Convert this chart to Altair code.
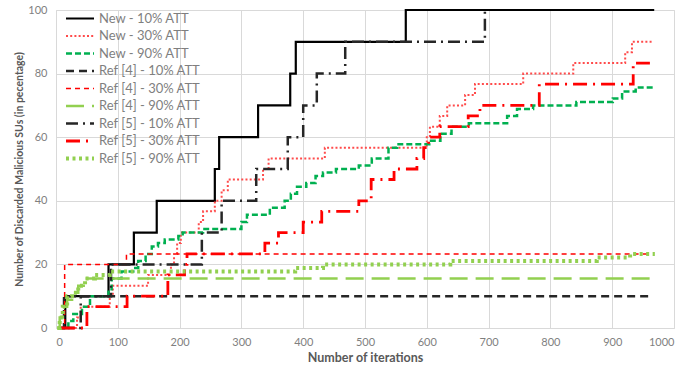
import altair as alt
import pandas as pd

series = ["New - 10% ATT", "New - 30% ATT", "New - 90% ATT",
          "Ref [4] - 10% ATT", "Ref [4] - 30% ATT", "Ref [4] - 90% ATT",
          "Ref [5] - 10% ATT", "Ref [5] - 30% ATT", "Ref [5] - 90% ATT"]

new10_x = [8, 15, 85, 126, 163, 257, 264, 327, 379, 388, 566, 968]
new10_y = [0, 10, 20, 30, 40, 50, 60, 70, 80, 90, 100, 100]

new30_x = [10, 34, 40, 87, 92, 149, 186, 191, 196, 202, 231, 238, 257, 268, 278,
           335, 344, 435, 600, 605, 621, 633, 662, 678, 756, 837, 921, 932, 966]
new30_y = [0, 3.3, 6.7, 10, 13.3, 16.7, 20, 23.3, 26.7, 30, 33.3, 36.7, 40, 43.3, 46.7,
           50, 53.3, 56.7, 60, 63.3, 66.7, 70, 73.3, 76.7, 80, 83.3, 86.7, 90, 90]

new90_x = [5, 20, 28, 42, 55, 85, 90, 106, 125, 133, 145, 155, 165, 176, 198, 205, 238,
           300, 309, 346, 370, 380, 390, 405, 420, 432, 453, 490, 511, 538, 552, 604,
           622, 640, 668, 730, 746, 772, 842, 901, 916, 938, 966]
new90_y = [0, 2.2, 4.4, 6.7, 10, 12.2, 15.6, 17.8, 18.9, 21.1, 23.3, 25.6, 26.7, 27.8,
           28.9, 30, 31.1, 33.3, 35.6, 37.8, 40, 42.2, 44.4, 45.6, 47.8, 48.9, 50, 51.1,
           53.3, 56.7, 57.8, 58.9, 61.1, 63.3, 64.4, 66.7, 68.9, 70, 71.1, 72.2, 74.4,
           75.6, 75.6]

ref4_10_x = [8, 13, 963]
ref4_10_y = [0, 10, 10]

ref4_30_x = [6, 14, 114, 960]
ref4_30_y = [0, 20, 23.3, 23.3]

ref4_90_x = [2, 6, 11, 18, 26, 36, 47, 969]
ref4_90_y = [0, 3.3, 6.7, 8.9, 11.1, 13.3, 15.6, 15.6]

ref5_10_x = [10, 40, 89, 236, 268, 324, 375, 400, 422, 468, 694, 697]
ref5_10_y = [0, 10, 20, 30, 40, 50, 60, 70, 80, 90, 100, 100]

ref5_30_x = [8, 50, 115, 181, 208, 212, 338, 360, 400, 430, 490, 510, 547, 584, 595,
             603, 621, 667, 686, 782, 934, 961]
ref5_30_y = [0, 6.7, 10, 16.7, 20, 23.3, 26.7, 30, 33.3, 36.7, 40, 46.7, 50, 53.3, 56.7,
             60, 63.3, 66.7, 70, 76.7, 83.3, 83.3]

ref5_90_x = [2, 6, 11, 18, 26, 36, 47, 63, 87, 387, 432, 638, 875, 929, 969]
ref5_90_y = [0, 3.3, 6.7, 10, 11.1, 13.3, 15.6, 16.7, 17.8, 18.9, 20, 21.1, 22.2, 23.3, 23.3]

xs = [new10_x, new30_x, new90_x, ref4_10_x, ref4_30_x, ref4_90_x, ref5_10_x, ref5_30_x, ref5_90_x]
ys = [new10_y, new30_y, new90_y, ref4_10_y, ref4_30_y, ref4_90_y, ref5_10_y, ref5_30_y, ref5_90_y]

rows = []
for name, sx, sy in zip(series, xs, ys):
    for i, (a, b) in enumerate(zip(sx, sy)):
        rows.append({"series": name, "x": a, "y": b, "i": i})
df = pd.DataFrame(rows)

colors = ["#000000", "#FF4B4B", "#00B050", "#262626", "#FF0000", "#92D050",
          "#262626", "#FF0000", "#92D050"]
dashes = [[1, 0], [2, 2.2], [6, 3], [8, 5], [5, 4], [18, 8], [12, 5, 2, 5],
          [14, 6, 2, 6], [3, 3.5]]
widths = [2.2, 2, 2.5, 2.5, 1.5, 2.5, 2.5, 2.8, 4]

FONT = "Lato"
GRAY = "#7F7F7F"

leg = alt.Legend(title=None, orient="none", legendX=8, legendY=0,
                 symbolType="stroke", symbolSize=784, clipHeight=17,
                 rowPadding=0.5, labelFont=FONT, labelFontSize=13,
                 labelColor=GRAY, labelOffset=3)

chart = alt.Chart(df).mark_line(interpolate="step-after").encode(
    x=alt.X("x:Q", scale=alt.Scale(domain=[0, 1000], nice=False),
            axis=alt.Axis(values=list(range(0, 1001, 100)), format="d",
                          title="Number of iterations",
                          grid=True, gridColor="#D9D9D9", domain=False, ticks=False,
                          labelFont=FONT, labelFontSize=11, labelColor=GRAY,
                          labelPadding=8, titleFont=FONT, titleFontSize=12.5,
                          titleFontWeight="bold", titleColor="#595959", titlePadding=4)),
    y=alt.Y("y:Q", scale=alt.Scale(domain=[0, 100], nice=False),
            axis=alt.Axis(values=list(range(0, 101, 20)),
                          title="Number of Discarded Malicious SUs (in pecentage)",
                          grid=True, gridColor="#D9D9D9", domain=False, ticks=False,
                          labelFont=FONT, labelFontSize=11, labelColor=GRAY,
                          labelPadding=9, titleFont=FONT, titleFontSize=10.5,
                          titleFontWeight="bold", titleColor="#595959", titlePadding=3)),
    color=alt.Color("series:N", scale=alt.Scale(domain=series, range=colors), legend=leg),
    strokeDash=alt.StrokeDash("series:N", scale=alt.Scale(domain=series, range=dashes), legend=leg),
    strokeWidth=alt.StrokeWidth("series:N",
                                scale=alt.Scale(type="ordinal", domain=series, range=widths),
                                legend=leg),
    order="i:Q",
).properties(
    width=618, height=318,
    autosize=alt.AutoSizeParams(type="none"),
    padding={"left": 56, "top": 10, "right": 25, "bottom": 40},
).configure_view(stroke=None).configure(background="white")

chart.save("out.html", embed_options={"renderer": "svg", "actions": False})
